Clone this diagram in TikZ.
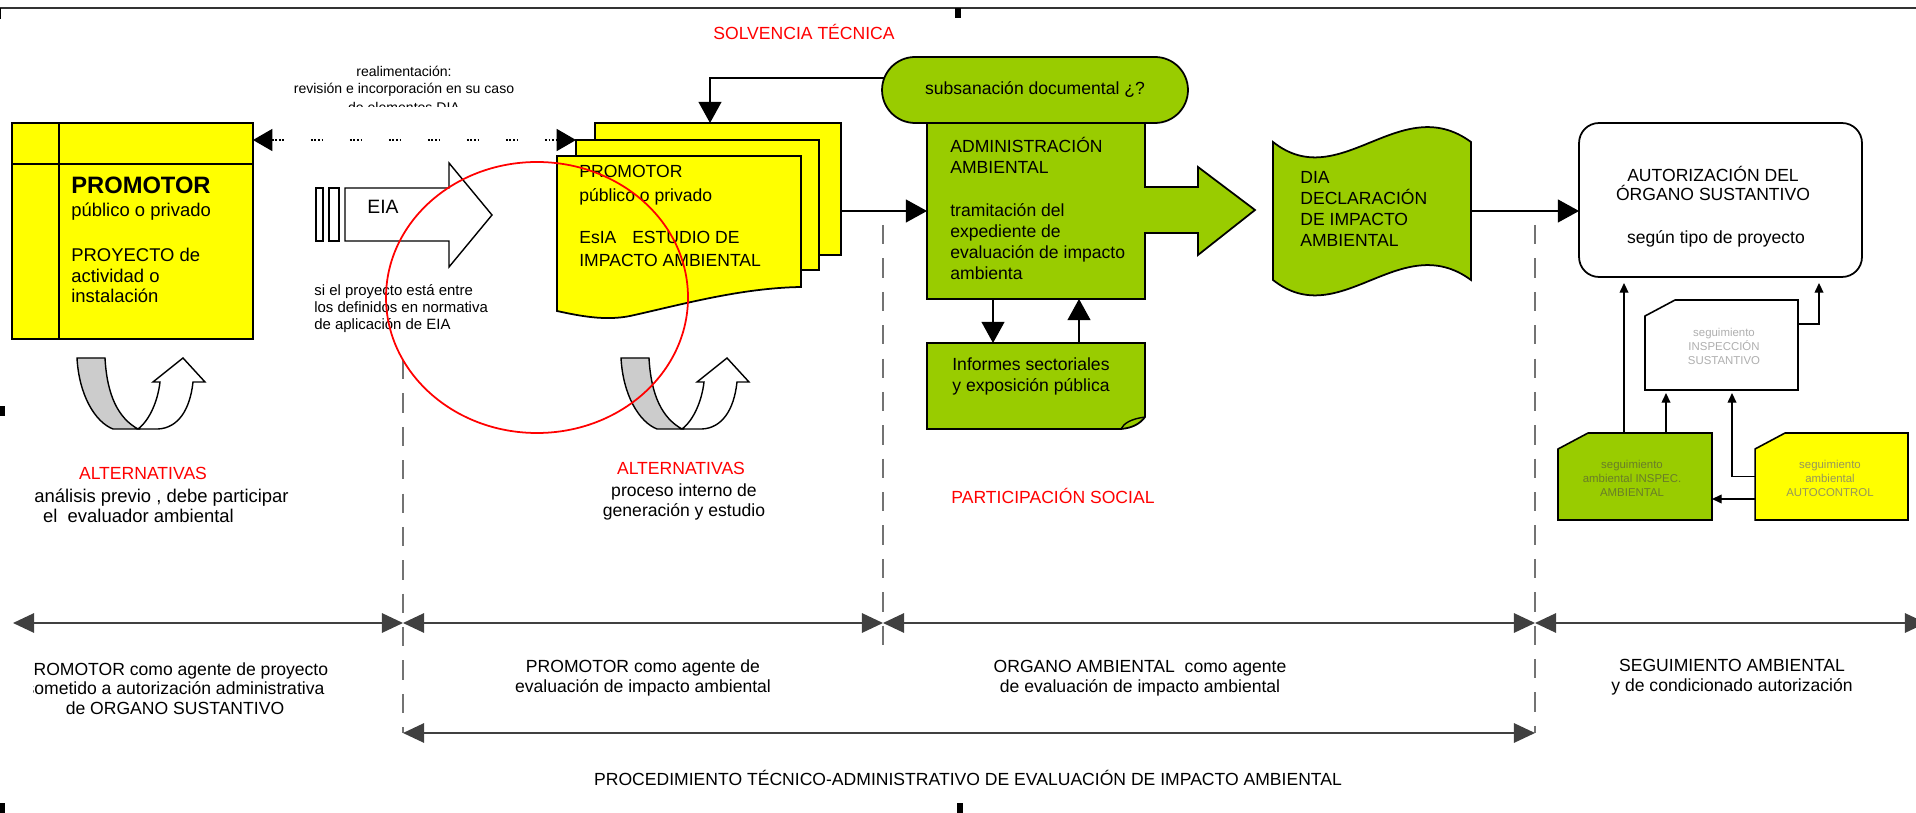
\documentclass[tikz,border=0pt]{standalone}
\usepackage{fontspec}
\setmainfont{Liberation Sans}
\usetikzlibrary{arrows.meta,positioning}
\definecolor{eiayellow}{RGB}{255,255,0}
\definecolor{eiagreen}{RGB}{153,204,0}
\definecolor{eiagray}{RGB}{204,204,204}
\definecolor{eiared}{RGB}{255,0,0}
\definecolor{eiaolive}{RGB}{105,125,40}
\definecolor{eiaocre}{RGB}{150,150,90}
\definecolor{eialight}{RGB}{175,175,175}

\tikzset{
  shapeline/.style={draw=black, line width=1pt},
  holder/.style={inner sep=0pt, outer sep=0pt},
  esiapage/.style={shapeline, fill=eiayellow, holder},
  txt/.style={inner sep=0pt, font=\fontsize{10}{11.4}\selectfont},
  redtxt/.style={txt, text=eiared},
  cardtxt/.style={inner sep=0pt, align=center, font=\fontsize{6.5}{8}\selectfont},
  conn/.style={line width=0.8pt, -{Triangle[length=12pt,width=13pt]}},
  sconn/.style={line width=0.7pt, -{Triangle[length=5.5pt,width=5pt]}},
  timespan/.style={line width=1.2pt, draw=black!75, {Triangle[length=12pt,width=11pt]}-{Triangle[length=12pt,width=11pt]}},
  divline/.style={line width=0.7pt, draw=black!55, dash pattern=on 11pt off 8pt},
  fbline/.style={line width=0.8pt, dash pattern=on 1pt off 1pt on 1pt off 1pt on 1pt off 1pt on 1pt off 15.2pt, {Triangle[length=11pt,width=12.5pt]}-{Triangle[length=11pt,width=12.5pt]}},
}

\begin{document}
\begin{tikzpicture}[x=0.02cm, y=-0.02cm]
\useasboundingbox (0,0) rectangle (1916,813);

% Frame and handles
\draw[line width=1pt, black!80] (0,8) -- (1916,8);
\draw[line width=1pt] (0.5,8) -- (0.5,19);
\foreach \hx/\hy in {958/13, 2/411, 2/808, 960/808}
  \fill (\hx-3,\hy-5) rectangle (\hx+3,\hy+5);

% Phase separators
\draw[divline] (403,360) -- (403,733);
\draw[divline] (883,225) -- (883,645);
\draw[divline] (1535,225) -- (1535,733);

% Timeline
\coordinate (t0) at (13,623);
\coordinate (t1) at (403,623);
\coordinate (t2) at (883,623);
\coordinate (t3) at (1535,623);
\coordinate (t4) at (1926,623);
\foreach \a/\b in {t0/t1, t1/t2, t2/t3, t3/t4}
  \draw[timespan] (\a) -- (\b);
\coordinate (p0) at (403,733);
\coordinate (p1) at (1535,733);
\draw[timespan] (p0) -- (p1);

% PROMOTOR
\node[shapeline, fill=eiayellow, holder, minimum width=4.82cm, minimum height=4.32cm] (promotor) at (132.5,231) {};
\draw[shapeline] (59,123) -- (59,339);
\draw[shapeline] (12,164) -- (253,164);
\node[txt, anchor=west, font=\fontsize{13.5}{15}\selectfont\bfseries] (promname) at (71,185) {PROMOTOR};
\node[txt, anchor=west, font=\fontsize{10.5}{11.7}\selectfont] (promsub) at (71,212) {público o privado};
\node[txt, anchor=west, align=left, font=\fontsize{10.5}{11.7}\selectfont] (promproy) at (71,275.5) {PROYECTO de\\actividad o\\instalación};

% Feedback text
\node[txt, align=center, font=\fontsize{8}{9.7}\selectfont] (fbtxt) at (404,81.5) {realimentación:\\revisión e incorporación en su caso};
\begin{scope}
\clip (250,96) rectangle (560,106.5);
\node[txt, font=\fontsize{8}{9.7}\selectfont] (fbcut) at (404,107.5) {de elementos DIA};
\end{scope}

% EIA arrow
\draw[shapeline, line width=0.8pt, fill=white] (316,188) rectangle (323,241) (329,188) rectangle (339,241);
\draw[shapeline, line width=0.8pt, fill=white] (345,188) -- (449,188) -- (449,163) -- (492,215) -- (449,267) -- (449,241) -- (345,241) -- cycle;
\node[txt, font=\fontsize{11}{13}\selectfont] (eiatxt) at (383,207) {EIA};
\node[txt, anchor=west, align=left, font=\fontsize{8.5}{9.7}\selectfont] (eiacond) at (314,309) {si el proyecto está entre\\los definidos en normativa\\de aplicación de EIA};

% EsIA documents
\node[esiapage, minimum width=4.92cm, minimum height=2.64cm] (esiaback) at (718,189) {};
\node[esiapage, minimum width=4.86cm, minimum height=2.6cm] (esiamid) at (697.5,205) {};
\draw[shapeline, fill=eiayellow] (557,156) -- (801,156) -- (801,287) .. controls (740,288) and (680,305) .. (630,316) .. controls (605,321) and (580,316) .. (557,311) -- cycle;
\node[txt, anchor=west, align=left, font=\fontsize{10}{13.6}\selectfont] (esiapromo) at (579,185) {PROMOTOR\\público o privado};
\node[txt, anchor=west, align=left, font=\fontsize{10}{13.1}\selectfont] (esiatitle) at (579,248.5) {EsIA\hspace{9pt}ESTUDIO DE\\IMPACTO AMBIENTAL};

% Administracion ambiental
\draw[shapeline, fill=eiagreen] (927,123) -- (1145,123) -- (1145,187) -- (1198,187) -- (1198,167) -- (1255,210) -- (1198,255) -- (1198,233) -- (1145,233) -- (1145,299) -- (927,299) -- cycle;
\node[holder, minimum width=4.36cm, minimum height=3.52cm] (admin) at (1036,211) {};
\node[txt, anchor=west, align=left, font=\fontsize{10}{12}\selectfont] (admintitle) at (950,155.5) {ADMINISTRACIÓN\\AMBIENTAL};
\node[txt, anchor=west, align=left, font=\fontsize{10}{12}\selectfont] (admintxt) at (950,241.5) {tramitación del\\expediente de\\evaluación de impacto\\ambienta};
\node[shapeline, fill=eiagreen, holder, rounded corners=0.66cm, minimum width=6.12cm, minimum height=1.32cm, txt] (subs) at (1035,90) {subsanación documental ¿?};

% Informes
\draw[shapeline, fill=eiagreen] (927,343) -- (1145,343) -- (1145,417) .. controls (1140,424) and (1132,428) .. (1121,429) -- (927,429) -- cycle;
\draw[line width=0.8pt] (1121,429) .. controls (1124,423) and (1131,419) .. (1145,417);
\node[holder, minimum width=4.36cm, minimum height=1.72cm] (informes) at (1036,386) {};
\node[txt, anchor=west, align=left, font=\fontsize{10}{12}\selectfont] (informestxt) at (952,376.5) {Informes sectoriales\\y exposición pública};

% DIA
\draw[shapeline, fill=eiagreen] (1273,142) .. controls (1340,195) and (1400,90) .. (1471,142) -- (1471,280) .. controls (1400,228) and (1340,333) .. (1273,280) -- cycle;
\node[holder, minimum width=3.96cm, minimum height=2.76cm] (dia) at (1372,211) {};
\node[txt, anchor=west, align=left, font=\fontsize{10}{12.1}\selectfont] (diatxt) at (1300,209) {DIA\\DECLARACIÓN\\DE IMPACTO\\AMBIENTAL};

% Autorizacion
\node[shapeline, fill=white, holder, rounded corners=0.4cm, minimum width=5.66cm, minimum height=3.08cm] (autoriz) at (1720.5,200) {};
\node[txt, align=center, font=\fontsize{10}{10.8}\selectfont] (autoriztxt) at (1713,183.5) {AUTORIZACIÓN DEL\\ÓRGANO SUSTANTIVO};
\node[txt] (autoriztipo) at (1716,239) {según tipo de proyecto};

% Seguimiento
\node[holder, minimum width=3.06cm, minimum height=1.8cm] (segsust) at (1721.5,345) {};
\node[holder, minimum width=3.08cm, minimum height=1.74cm] (segamb) at (1635,476.5) {};
\node[holder, minimum width=3.06cm, minimum height=1.74cm] (segauto) at (1831.5,476.5) {};
\foreach \n/\c in {segsust/white, segamb/eiagreen, segauto/eiayellow}
  \draw[shapeline, line width=0.9pt, fill=\c] ([shift={(0,16)}]\n.north west) -- ([shift={(30,0)}]\n.north west) -- (\n.north east) -- (\n.south east) -- (\n.south west) -- cycle;
\node[cardtxt, text=eialight] (segsusttxt) at (1724,346) {seguimiento\\INSPECCIÓN\\SUSTANTIVO};
\node[cardtxt, text=eiaolive] (segambtxt) at (1632,478) {seguimiento\\ambiental INSPEC.\\AMBIENTAL};
\node[cardtxt, text=eiaocre] (segautotxt) at (1830,478) {seguimiento\\ambiental\\AUTOCONTROL};

% Alternativas icons
\foreach \dx in {0,544} {
  \begin{scope}[shift={(\dx,0)}]
  \draw[line width=0.8pt, fill=eiagray] (77,358) -- (105,358) .. controls (107,395) and (118,418) .. (138,429) -- (113,429) .. controls (95,422) and (79,395) .. (77,358) -- cycle;
  \draw[line width=0.8pt, fill=white] (138,429) .. controls (150,420) and (158,400) .. (160,382) -- (153,382) -- (183,358) -- (205,382) -- (193,382) .. controls (190,410) and (178,428) .. (158,429) -- cycle;
  \end{scope}
}

% Labels
\begin{scope}
\clip (33,440) rectangle (420,730);
\node[redtxt] (alt1) at (143,473) {ALTERNATIVAS};
\node[txt, anchor=west, align=left, font=\fontsize{10.5}{11.4}\selectfont] (alt1txt) at (34,506) {análisis previo , debe participar\\\hspace*{5pt}el\ \ evaluador ambiental};
\node[txt, align=center, font=\fontsize{10}{11.1}\selectfont] (agprom1) at (175,688.5) {PROMOTOR como agente de proyecto\\sometido a autorización administrativa\\de ORGANO SUSTANTIVO};
\end{scope}
\node[redtxt] (alt2) at (681,468) {ALTERNATIVAS};
\node[txt, align=center] (alt2txt) at (684,502) {proceso interno de\\generación y estudio};
\node[redtxt] (particip) at (1053,496) {PARTICIPACIÓN SOCIAL};
\node[redtxt] (solvencia) at (804,32) {SOLVENCIA TÉCNICA};
\node[txt, align=center] (agprom2) at (643,678) {PROMOTOR como agente de\\evaluación de impacto ambiental};
\node[txt, align=center] (agorg) at (1140,678) {ORGANO AMBIENTAL\ \ como agente\\de evaluación de impacto ambiental};
\node[txt, align=center] (agseg) at (1732,677.5) {SEGUIMIENTO AMBIENTAL\\y de condicionado autorización};
\node[txt] (procedim) at (968,778) {PROCEDIMIENTO TÉCNICO-ADMINISTRATIVO DE EVALUACIÓN DE IMPACTO AMBIENTAL};

% Connectors
\draw[fbline] (promotor.east |- esiamid.north west) -- (esiamid.north west);
\draw[conn] ([shift={(2,-12)}]subs.west) -| ([shift={(-8,0)}]esiaback.north);
\draw[conn] (esiaback.east |- admin.west) -- (admin.west);
\draw[conn] ([shift={(-43,0)}]admin.south) -- ([shift={(-43,0)}]informes.north);
\draw[conn] ([shift={(43,0)}]informes.north) -- ([shift={(43,0)}]admin.south);
\draw[conn] (dia.east) -- (dia.east -| autoriz.west);
\draw[sconn, shorten >=1.2mm] ([shift={(-11,0)}]segamb.north) -- ([shift={(-96.5,0)}]autoriz.south);
\draw[sconn, shorten >=0.6mm] ([shift={(31,0)}]segamb.north) -- ([shift={(-55.5,0)}]segsust.south);
\draw[sconn, shorten >=0.6mm] (segauto.west) -| ([shift={(10.5,0)}]segsust.south);
\draw[sconn] ([shift={(0,22.5)}]segauto.west) -- ([shift={(0,22.5)}]segamb.east);
\draw[sconn, shorten >=1.2mm] ([shift={(0,-21)}]segsust.east) -| ([shift={(98.5,0)}]autoriz.south);

% Red mark
\draw[eiared, line width=1pt] (537,297.5) ellipse [x radius=151, y radius=135.5];
\end{tikzpicture}
\end{document}
